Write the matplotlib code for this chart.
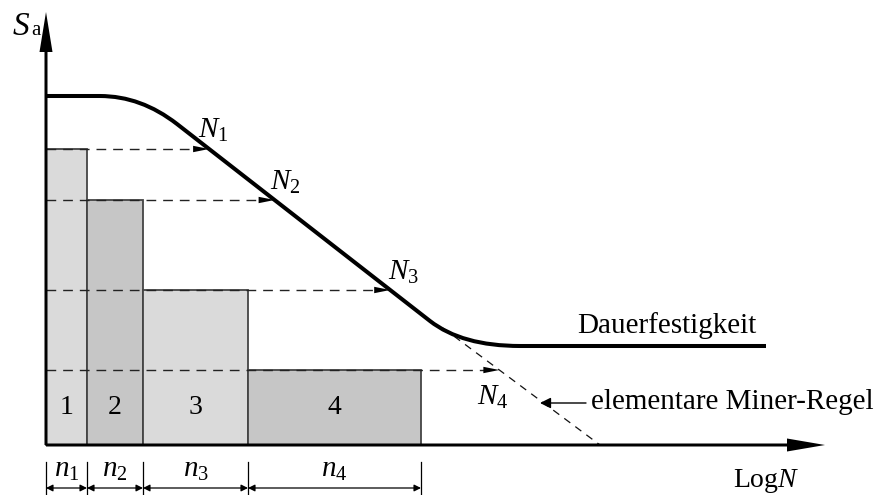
import numpy as np
import matplotlib
matplotlib.use('Agg')
import matplotlib.pyplot as plt
from matplotlib.path import Path
from matplotlib.patches import PathPatch, Polygon

plt.rcParams['font.family'] = ['Liberation Serif', 'DejaVu Serif']
plt.rcParams['mathtext.fontset'] = 'custom'
plt.rcParams['mathtext.rm'] = 'Liberation Serif'
plt.rcParams['mathtext.it'] = 'Liberation Serif:italic'

# ---- data (schematic units, origin at the axes corner) ----
bar_labels = ['1', '2', '3', '4']
bar_edges = [0, 41, 97, 202, 375]
bar_heights = [296, 245, 155, 75]
bar_colors = ['#dadada', '#c6c6c6', '#dadada', '#c6c6c6']
n_labels = [r'$n_1$', r'$n_2$', r'$n_3$', r'$n_4$']
N_labels = [r'$N_1$', r'$N_2$', r'$N_3$', r'$N_4$']

# Woehler curve: plateau, sloped line, endurance limit (knee corners rounded)
curve_x = [0, 54, 95, 131, 384, 416, 474, 720]
curve_y = [349, 349, 349, 321, 124, 99, 99, 99]
curve_codes = [Path.MOVETO, Path.LINETO, Path.CURVE3, Path.CURVE3,
               Path.LINETO, Path.CURVE3, Path.CURVE3, Path.LINETO]
# elementary Miner rule (extension of the sloped line)
miner_x = [397, 554]
miner_y = [117, 0]

# ---- figure ----
fig = plt.figure(figsize=(8.78, 4.95), dpi=100)
ax = fig.add_axes([0, 0, 1, 1])
ax.set_xlim(-46, 832)
ax.set_ylim(-50, 445)
ax.axis('off')

lefts = np.array(bar_edges[:-1])
widths = np.diff(bar_edges)
ax.bar(lefts, bar_heights, width=widths, align='edge', color=bar_colors,
       edgecolor='#444444', linewidth=1.3, zorder=2)
for l, w, lab in zip(lefts, widths, bar_labels):
    ax.text(l + w / 2, 38, lab, ha='center', va='center', fontsize=20, zorder=5)

# curve
path = Path(list(zip(curve_x, curve_y)), curve_codes)
ax.add_patch(PathPatch(path, fill=False, lw=2.9, edgecolor='black',
                       capstyle='butt', joinstyle='round', zorder=4))
ax.plot(miner_x, miner_y, color='#111111', lw=0.9, ls=(0, (6, 5)), zorder=3)

# dashed arrows from bar heights to the curve
seg_x = [curve_x[4], curve_x[3]]
seg_y = [curve_y[4], curve_y[3]]
for h in bar_heights:
    if h > seg_y[0]:
        xe = np.interp(h, seg_y, seg_x)
    else:
        xe = np.interp(h, miner_y[::-1], miner_x[::-1])
    ax.plot([0, xe - 14], [h, h], color='#222222', lw=1.0,
            ls=(0, (7, 5)), zorder=3)
    ax.add_patch(Polygon([[xe, h], [xe - 16, h + 3.2], [xe - 16, h - 3.2]],
                         closed=True, color='black', lw=0, zorder=4))

# N labels
N_pos = [(152, 307), (224, 255), (342, 165), (431, 40)]
for (x, y), lab in zip(N_pos, N_labels):
    ax.text(x, y, lab, fontsize=21, ha='left', va='baseline', zorder=5)

# axes arrows
ax.arrow(0, 0, 0, 433, width=3, head_width=13, head_length=40,
         length_includes_head=True, fc='black', ec='black', lw=0, zorder=6)
ax.arrow(0, 0, 779, 0, width=3, head_width=13, head_length=38,
         length_includes_head=True, fc='black', ec='black', lw=0, zorder=6)

ax.text(-34, 410, '$S$', fontsize=24, ha='left', va='baseline')
ax.text(-15, 410, 'a', fontsize=15, ha='left', va='baseline')
ax.text(687, -42, r'$\mathrm{Log}N$', fontsize=20, ha='left', va='baseline')

ax.text(531, 112, 'Dauerfestigkeit', fontsize=21, ha='left', va='baseline')
ax.annotate('', xy=(494, 42), xytext=(540, 42),
            arrowprops=dict(arrowstyle='-|>', lw=1.0, color='black',
                            mutation_scale=16, shrinkA=0, shrinkB=0))
ax.text(545, 36, 'elementare Miner-Regel', fontsize=21, ha='left', va='baseline')

# dimension lines
for e in bar_edges:
    ax.plot([e, e], [-17, -50], color='black', lw=0.9, clip_on=False)
for l, w, lab in zip(lefts, widths, n_labels):
    ax.annotate('', xy=(l + w, -43), xytext=(l, -43),
                arrowprops=dict(arrowstyle='<|-|>', lw=0.9, color='black',
                                mutation_scale=10, shrinkA=0, shrinkB=0))
    ax.text(l + w / 2, -32, lab, fontsize=21, ha='center', va='baseline')

fig.savefig('out.png', dpi=100)
